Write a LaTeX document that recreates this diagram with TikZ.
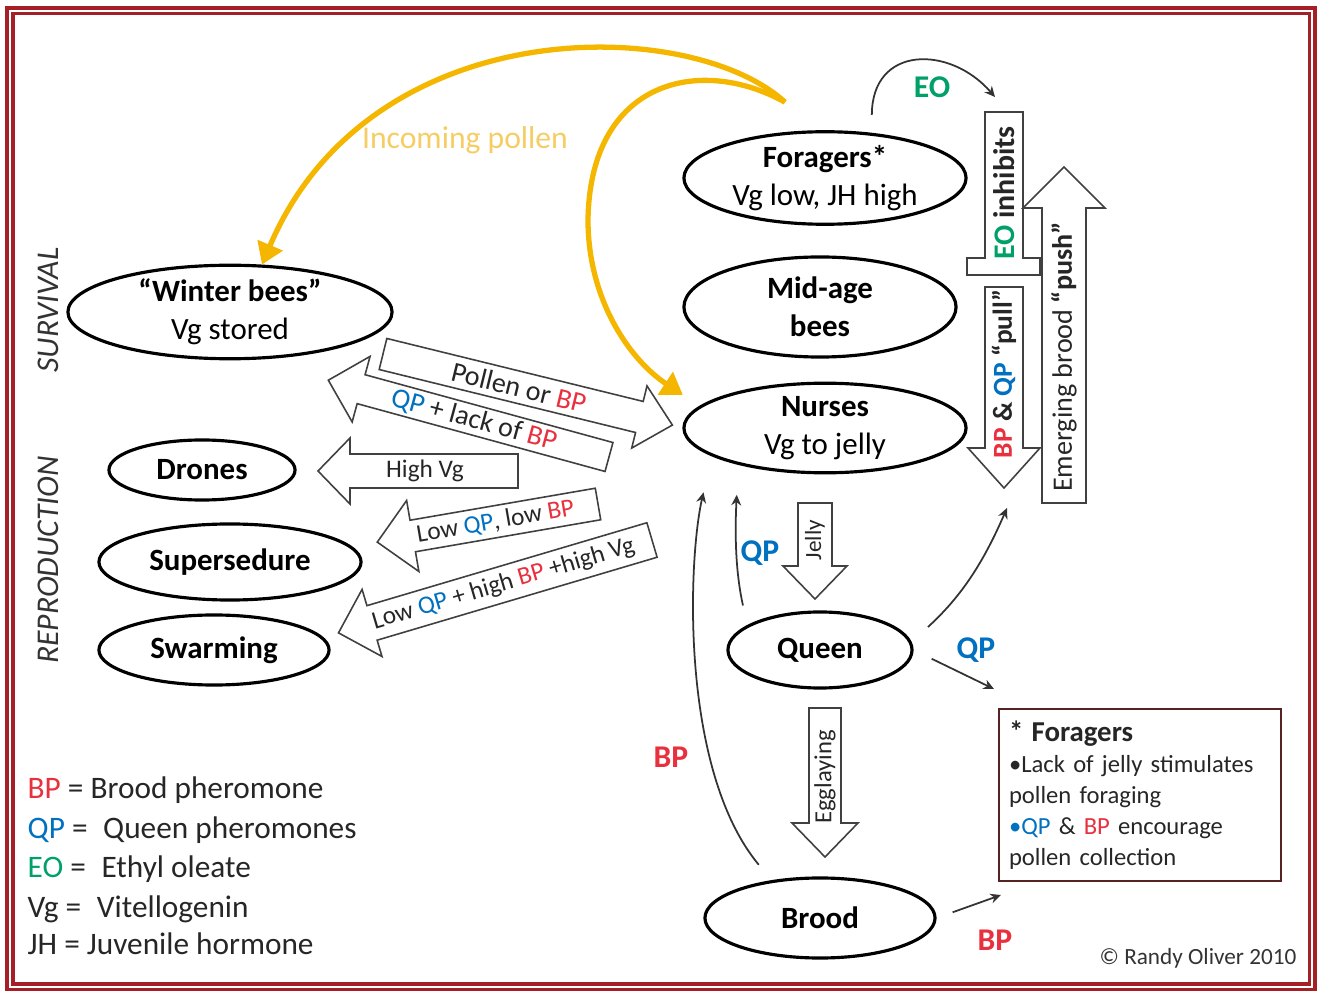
\documentclass[tikz,border=0pt]{standalone}
\usepackage{fontspec}
\setmainfont{Carlito}
\usepackage{tikz}
\usetikzlibrary{arrows.meta,shapes.geometric,positioning}
\definecolor{bpred}{RGB}{232,48,62}
\definecolor{qpblue}{RGB}{0,112,192}
\definecolor{eogreen}{RGB}{0,160,105}
\definecolor{pollenyellow}{RGB}{245,182,0}
\definecolor{pollenlabel}{RGB}{246,205,100}
\definecolor{framered}{RGB}{165,32,38}
\definecolor{notebrown}{RGB}{85,35,35}
\newcommand{\bptxt}{\textcolor{bpred}{BP}}
\newcommand{\qptxt}{\textcolor{qpblue}{QP}}
\newcommand{\eotxt}{\textcolor{eogreen}{EO}}

\tikzset{
  stage/.style={ellipse, draw, line width=0.9pt, inner sep=0pt, align=center,
    font=\fontsize{8.8}{10.8}\selectfont},
  blockline/.style={draw=black!75, line width=0.45pt},
  arrowtext/.style={transform shape, inner sep=0pt, text=black!85,
    font=\fontsize{7.2}{8}\selectfont},
  thinarrow/.style={draw=black!80, line width=0.5pt, -{Stealth[length=3pt,width=2.8pt]}},
  pollenarrow/.style={draw=pollenyellow, line width=1.5pt, -{Triangle[length=6pt,width=7.5pt]}},
  taglabel/.style={font=\bfseries\fontsize{9}{10}\selectfont},
  legendline/.style={anchor=base west, inner sep=0pt, text=black!85,
    font=\fontsize{8.9}{10}\selectfont},
  pics/barrow/.style args={#1/#2/#3/#4}{code={
    \draw[blockline] (0,#2) -- ({#1-(#4)},#2) -- ({#1-(#4)},#3) -- (#1,0)
      -- ({#1-(#4)},-#3) -- ({#1-(#4)},-#2) -- (0,-#2) -- cycle;
  }},
}

\begin{document}
\begin{tikzpicture}[x=0.01cm, y=0.01cm]
  \useasboundingbox (0,0) rectangle (1320,-991);
  \draw[framered, line width=0.035cm, double=white, double distance=0.02cm]
    (10,-11) rectangle (1312,-987);

  % side titles
  \node[rotate=90, text=black!80, font=\itshape\fontsize{9}{10}\selectfont] (survival) at (48,-310) {SURVIVAL};
  \node[rotate=90, text=black!80, font=\itshape\fontsize{9}{10}\selectfont] (repro) at (48,-560) {REPRODUCTION};

  % bee stages
  \node[stage, minimum width=3.24cm, minimum height=0.84cm] (winter) at (230,-312) {\textbf{“Winter bees”}\\Vg stored};
  \node[stage, minimum width=1.86cm, minimum height=0.60cm] (drones) at (202,-470) {\textbf{Drones}};
  \node[stage, minimum width=2.62cm, minimum height=0.76cm] (supersedure) at (230,-562) {\textbf{Supersedure}};
  \node[stage, minimum width=2.30cm, minimum height=0.70cm] (swarming) at (214,-650) {\textbf{Swarming}};
  \node[stage, minimum width=2.82cm, minimum height=0.90cm] (foragers) at (825,-178) {\textbf{Foragers*}\\Vg low, JH high};
  \node[stage, minimum width=2.72cm, minimum height=1.00cm] (midage) at (820,-307) {\textbf{Mid-age}\\\textbf{bees}};
  \node[stage, minimum width=2.82cm, minimum height=0.84cm] (nurses) at (825,-428) {\textbf{Nurses}\\Vg to jelly};
  \node[stage, minimum width=1.84cm, minimum height=0.76cm] (queen) at (820,-650) {\textbf{Queen}};
  \node[stage, minimum width=2.30cm, minimum height=0.80cm] (brood) at (820,-918) {\textbf{Brood}};

  % incoming pollen
  \coordinate (pollensrc) at ([shift={(-40,28)}]foragers.north);
  \draw[pollenarrow] (pollensrc) .. controls (690,-15) and (370,-10) .. (winter.56);
  \draw[pollenarrow, shorten >=0.2cm] (pollensrc) .. controls (700,-55) and (590,-80) .. (588,-220)
    .. controls (588,-300) and (630,-360) .. (nurses.170);
  \node[text=pollenlabel, font=\fontsize{9}{10}\selectfont] (pollenlbl) at (465,-140) {Incoming pollen};

  % block arrows between nurses and the left side
  \begin{scope}[shift={(383,-354)}, rotate=-13.8]
    \pic[transform shape] {barrow={298/16/32/34}};
    \node[arrowtext, font=\fontsize{8}{9}\selectfont] (pollenbp) at (140,0) {Pollen or \bptxt};
  \end{scope}
  \begin{scope}[shift={(609,-457)}, rotate=-15.3]
    \pic[transform shape] {barrow={-291/15/34/-34}};
    \node[arrowtext, font=\fontsize{8}{9}\selectfont] (lackbp) at (-140,0) {\qptxt{} + lack of \bptxt};
  \end{scope}
  \begin{scope}[shift={(518,-471)}]
    \pic[transform shape] {barrow={-200/17/33/-32}};
    \node[arrowtext] (highvg) at (-93,0) {High Vg};
  \end{scope}
  \begin{scope}[shift={(598,-504)}, rotate=9.8]
    \pic[transform shape] {barrow={-224/16/36/-36}};
    \node[arrowtext] (lowqp) at (-104,0) {Low \qptxt, low \bptxt};
  \end{scope}
  \begin{scope}[shift={(652,-540)}, rotate=16.5]
    \pic[transform shape] {barrow={-327/18/35/-35}};
    \node[arrowtext] (swarmcue) at (-155,0) {Low \qptxt{} + high \bptxt{} +high Vg};
  \end{scope}

  % age polyethism arrows
  \draw[blockline] (985,-112) -- (1023,-112) -- (1023,-258) -- (1040,-258) -- (1040,-275)
    -- (967,-275) -- (967,-258) -- (985,-258) -- cycle;
  \node[rotate=90, text=black!85, font=\bfseries\fontsize{8.5}{9}\selectfont] (eoinhib) at (1004,-193) {\eotxt\ inhibits};
  \begin{scope}[shift={(1004,-287)}, rotate=90]
    \pic[transform shape] {barrow={-201/19/36/-40}};
    \node[arrowtext, font=\bfseries\fontsize{7.8}{9}\selectfont] (pull) at (-87,0) {\bptxt{} \& \qptxt{} “pull”};
  \end{scope}
  \begin{scope}[shift={(1064,-503)}, rotate=90]
    \pic[transform shape] {barrow={336/22/41/41}};
    \node[arrowtext, font=\fontsize{8}{9}\selectfont] (push) at (146,0) {Emerging brood \textbf{“push”}};
  \end{scope}

  % jelly and egglaying
  \begin{scope}[shift={(815,-503)}, rotate=90]
    \pic[transform shape] {barrow={-96/17/32/-33}};
    \node[arrowtext, font=\fontsize{6.6}{7}\selectfont] (jelly) at (-37,0) {Jelly};
  \end{scope}
  \begin{scope}[shift={(825,-708)}, rotate=90]
    \pic[transform shape] {barrow={-149/16/33/-34}};
    \node[arrowtext, font=\fontsize{7}{8}\selectfont] (egg) at (-69,0) {Egglaying};
  \end{scope}

  % pheromone signals
  \coordinate (eotip) at (995,-97);
  \coordinate (qptip) at (1007,-508);
  \coordinate (qpnote) at (994,-689);
  \coordinate (bpnote) at (1001,-895);
  \draw[thinarrow, shorten <=0.18cm] (foragers.44) .. controls (872,-45) and (950,-45) .. (eotip);
  \node[taglabel, text=eogreen] (eolbl) at (932,-87) {EO};
  \draw[thinarrow, shorten <=0.2cm, shorten >=0.3cm] (queen.161) .. controls (735,-570) and (735,-530) .. (nurses.203);
  \node[taglabel, text=qpblue] (qplbl1) at (760,-553) {QP};
  \draw[thinarrow, shorten <=0.2cm, shorten >=0.37cm] (brood.142) .. controls (680,-770) and (688,-560) .. (nurses.194);
  \node[taglabel, text=bpred] (bplbl1) at (671,-757) {BP};
  \draw[thinarrow, shorten <=0.22cm] (queen.5) to[bend right=12] (qptip);
  \draw[thinarrow, shorten <=0.2cm] (queen.east) -- (qpnote);
  \node[taglabel, text=qpblue] (qplbl2) at (976,-650) {QP};
  \draw[thinarrow, shorten <=0.17cm] (brood.east) -- (bpnote);
  \node[taglabel, text=bpred] (bplbl2) at (995,-940) {BP};

  % foragers note
  \node[draw=notebrown, line width=0.6pt, anchor=north west, minimum width=2.82cm, minimum height=1.72cm,
    text width=2.62cm, inner sep=0.1cm, align=left, text=black!85, font=\fontsize{7}{8.8}\selectfont] (note) at (998,-708)
    {{\bfseries\fontsize{8.2}{8.8}\selectfont * Foragers}\\
     \textbullet Lack of jelly stimulates\\
     pollen foraging\\
     \textcolor{qpblue}{\textbullet QP} \& \bptxt{} encourage\\
     pollen collection};

  % legend
  \node[legendline] (lgbp) at (27,-799) {\bptxt\ = Brood pheromone};
  \node[legendline] (lgqp) at (27,-839) {\qptxt\ =\enspace Queen pheromones};
  \node[legendline] (lgeo) at (27,-878) {\eotxt\ =\enspace Ethyl oleate};
  \node[legendline] (lgvg) at (27,-917) {Vg =\enspace Vitellogenin};
  \node[legendline] (lgjh) at (27,-955) {JH = Juvenile hormone};

  \node[text=black!80, font=\fontsize{6.6}{7}\selectfont] (credit) at (1198,-958) {© Randy Oliver 2010};
\end{tikzpicture}
\end{document}
